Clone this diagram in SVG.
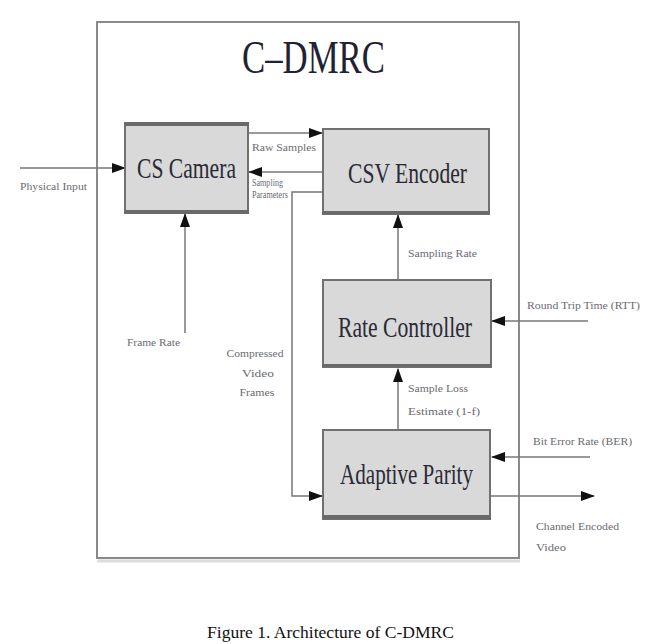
<svg xmlns="http://www.w3.org/2000/svg" width="654" height="644" viewBox="0 0 654 644">
<style>
.box{fill:#d9d9d9;stroke:#707070;stroke-width:2}
.bar{fill:#6a6a6a}
.bl{font-family:"Liberation Serif","Times New Roman",serif;font-size:30px;fill:#2a2a36;text-anchor:middle}
.sl{font-family:"Liberation Serif","Times New Roman",serif;font-size:10px;fill:#6a6a72}
.ln{fill:none;stroke:#777;stroke-width:1.5}
</style>
<defs>
<marker id="ah" markerUnits="userSpaceOnUse" markerWidth="14" markerHeight="10" refX="13" refY="5" orient="auto">
<path d="M0,0 L14,5 L0,10 Z" fill="#111"/>
</marker>
</defs>
<rect width="654" height="644" fill="#fff"/>
<g id="frame">
<rect x="97" y="22" width="422" height="536" fill="none" stroke="#8a8a8a" stroke-width="2"/>
<line x1="97" y1="561" x2="520" y2="561" stroke="#dcdcdc" stroke-width="3"/>
<text x="313.5" y="73" font-family="'Liberation Serif','Times New Roman',serif" font-size="46" fill="#1f2233" text-anchor="middle" textLength="143" lengthAdjust="spacingAndGlyphs">C–DMRC</text>
</g>
<g id="connectors">
<line class="ln" x1="20" y1="168" x2="125" y2="168" stroke="#555" marker-end="url(#ah)"/>
<line class="ln" x1="248" y1="133" x2="322" y2="133" stroke="#555" marker-end="url(#ah)"/>
<line class="ln" x1="322" y1="172" x2="249" y2="172" stroke="#8c8c8c" stroke-width="4" marker-end="url(#ah)"/>
<polyline class="ln" points="322,192 292,192 292,496 322,496" marker-end="url(#ah)"/>
<line class="ln" x1="185" y1="333" x2="185" y2="214" stroke="#999" marker-end="url(#ah)"/>
<line class="ln" x1="398" y1="279" x2="398" y2="215" stroke="#666" marker-end="url(#ah)"/>
<line class="ln" x1="398" y1="430" x2="398" y2="369" stroke="#666" marker-end="url(#ah)"/>
<line class="ln" x1="588" y1="321" x2="492" y2="321" stroke="#999" marker-end="url(#ah)"/>
<line class="ln" x1="590" y1="457" x2="492" y2="457" stroke="#a8a8a8" stroke-width="5" marker-end="url(#ah)"/>
<line class="ln" x1="490" y1="496" x2="594" y2="496" stroke="#888" marker-end="url(#ah)"/>
<text class="sl" x="20" y="190" textLength="67" lengthAdjust="spacingAndGlyphs">Physical Input</text>
<text class="sl" x="252" y="151" textLength="64" lengthAdjust="spacingAndGlyphs">Raw Samples</text>
<text class="sl" x="252" y="186" font-size="7.5" textLength="31" lengthAdjust="spacingAndGlyphs">Sampling</text>
<text class="sl" x="252" y="198" font-size="7.5" textLength="36" lengthAdjust="spacingAndGlyphs">Parameters</text>
<text class="sl" x="127" y="346" textLength="53" lengthAdjust="spacingAndGlyphs">Frame Rate</text>
<text class="sl" x="255" y="357" text-anchor="middle" textLength="57" lengthAdjust="spacingAndGlyphs">Compressed</text>
<text class="sl" x="258" y="377" text-anchor="middle" textLength="32" lengthAdjust="spacingAndGlyphs">Video</text>
<text class="sl" x="257" y="396" text-anchor="middle" textLength="35" lengthAdjust="spacingAndGlyphs">Frames</text>
<text class="sl" x="408" y="257" textLength="69" lengthAdjust="spacingAndGlyphs">Sampling Rate</text>
<text class="sl" x="408" y="392" textLength="60" lengthAdjust="spacingAndGlyphs">Sample Loss</text>
<text class="sl" x="408" y="415" textLength="72" lengthAdjust="spacingAndGlyphs">Estimate (1-f)</text>
<text class="sl" x="527" y="309" textLength="113" lengthAdjust="spacingAndGlyphs">Round Trip Time (RTT)</text>
<text class="sl" x="533" y="445" textLength="99" lengthAdjust="spacingAndGlyphs">Bit Error Rate (BER)</text>
<text class="sl" x="536" y="530" textLength="83" lengthAdjust="spacingAndGlyphs">Channel Encoded</text>
<text class="sl" x="536" y="551" textLength="30" lengthAdjust="spacingAndGlyphs">Video</text>
</g>
<g id="cs-camera">
<rect class="box" x="125" y="124" width="123" height="89"/>
<rect class="bar" x="124" y="122" width="125" height="4"/>
<rect class="bar" x="124" y="210" width="125" height="4"/>
<text class="bl" x="186.5" y="178" font-size="28" textLength="99" lengthAdjust="spacingAndGlyphs">CS Camera</text>
</g>
<g id="csv-encoder">
<rect class="box" x="323" y="129" width="166" height="85"/>
<rect class="bar" x="322" y="211" width="168" height="3"/>
<text class="bl" x="407.5" y="183" textLength="119" lengthAdjust="spacingAndGlyphs">CSV Encoder</text>
</g>
<g id="rate-controller">
<rect class="box" x="323" y="280" width="168" height="87"/>
<rect class="bar" x="322" y="364" width="170" height="3"/>
<text class="bl" x="405" y="337" textLength="134" lengthAdjust="spacingAndGlyphs">Rate Controller</text>
</g>
<g id="adaptive-parity">
<rect class="box" x="323" y="430" width="167" height="89"/>
<rect class="bar" x="322" y="515" width="169" height="4"/>
<text class="bl" x="406.5" y="484" textLength="133" lengthAdjust="spacingAndGlyphs">Adaptive Parity</text>
</g>
<text x="207" y="638" font-family="'Liberation Serif','Times New Roman',serif" font-size="17" fill="#111" textLength="247" lengthAdjust="spacingAndGlyphs">Figure 1. Architecture of C-DMRC</text>
</svg>
